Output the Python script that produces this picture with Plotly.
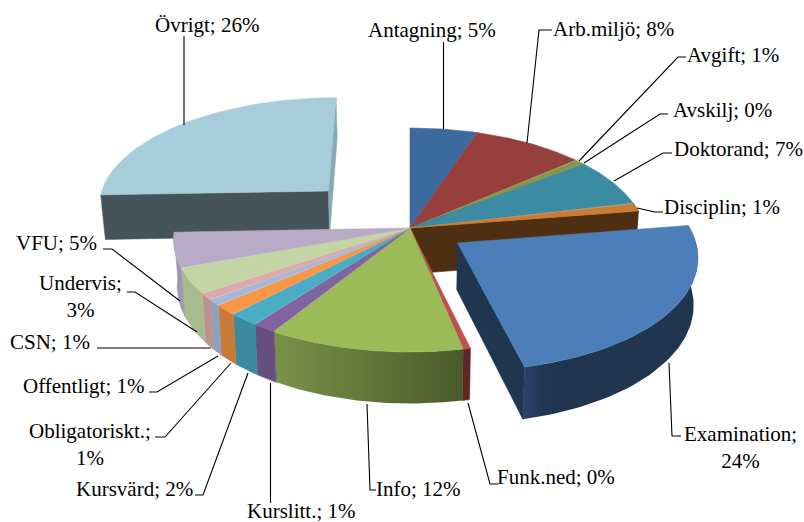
import numpy as np
import plotly.graph_objects as go

# ---------- data ----------
categories = ["Antagning", "Arb.miljö", "Avgift", "Avskilj", "Doktorand", "Disciplin",
              "Examination", "Funk.ned", "Info", "Kurslitt.", "Kursvärd", "Obligatoriskt.",
              "Offentligt", "CSN", "Undervis", "VFU", "Övrigt"]
shares = [5.1, 8.5, 0.8, 0.1, 6.8, 1.2, 23.8, 0.45, 12.05, 1.5, 1.9, 1.5, 0.9, 1.0, 3.7, 5.1, 25.6]
percent_labels = [5, 8, 1, 0, 7, 1, 24, 0, 12, 1, 2, 1, 1, 1, 3, 5, 26]
explode = [0, 0, 0, 0, 0, 0, 0.24, 0, 0, 0, 0, 0, 0, 0, 0, 0, 0.50]

top_colors = ["#3D6A9E", "#973F3D", "#7F9A48", "#664F85", "#3B8CA3", "#CB7B34",
              "#4C7FBA", "#C0504D", "#9BBB59", "#8064A2", "#4BACC6", "#F79646",
              "#A6B8DA", "#DCAAA9", "#C4D5A5", "#B7ABC6", "#A7CCDA"]
wall_colors = ["#2A4A6E", "#6B2C2B", "#5A6D33", "#48385E", "#2A6373", "#4F2F12",
               "#203650", "#5F2625", "#647A3A", "#654F80", "#3B8AA0", "#C97A38",
               "#8FA0BD", "#BD9090", "#A9BB8D", "#A196AE", "#45535A"]

# label text layout: category index -> (x, y, anchor)
label_breaks = {"Examination", "Obligatoriskt.", "Undervis"}
label_pos = [(366, 30, "left"), (551, 29, "left"), (685, 55, "left"), (671, 110, "left"),
             (672, 149, "left"), (662, 207, "left"), (740, 447, "center"), (495, 477, "left"),
             (374, 489, "left"), (245, 511, "left"), (195, 489, "right"), (90, 444, "center"),
             (147, 386, "right"), (92, 342, "right"), (80, 296, "center"), (99, 243, "right"),
             (153, 25, "left")]
leader_xs = [[443.5, 443.5], [527, 539, 552], [579, 678, 686], [584, 660, 668], [614, 663, 672],
             [637, 655, 663], [669, 672, 681], [468, 490, 498], [367, 370, 376], [270.5, 270.5],
             [248, 203, 195], [231, 165, 155], [218, 157, 149], [211, 97], [197, 135, 127],
             [180, 112, 103], [184, 184]]
leader_ys = [[129, 42], [143, 30, 30], [161, 57, 57], [163, 114, 114], [181, 153, 153],
             [208, 212, 212], [363, 436, 436], [403, 484, 484], [404, 490, 490], [383, 503],
             [373, 495, 495], [363, 437, 437], [356, 392, 392], [348, 348], [332, 292, 292],
             [301, 249, 249], [125, 36]]

# ---------- projection ----------
CX, CY, RX, RY, P, H, CONV = 410.0, 228.0, 235.0, 110.7, 0.107, 46.0, 0.985
FONT = "Liberation Serif"
FS = 21

ends = np.cumsum(shares) / np.sum(shares) * 2 * np.pi
starts = np.concatenate([[0.0], ends[:-1]])


def offset(i):
    mid = (starts[i] + ends[i]) / 2
    return explode[i] * np.sin(mid), explode[i] * np.cos(mid)


def project(i, theta, r, low=False):
    ou, ov = offset(i)
    u = ou + r * np.sin(theta)
    v = ov + r * np.cos(theta)
    w = 1 + P * v
    x = CX + RX * u / w
    y = CY - RY * v / w
    if low:
        x = CX + (x - CX) * CONV
        y = y + H / w
    return x, y


fig = go.Figure()


def poly(xs, ys, color, gradient=None):
    kw = dict(x=list(xs), y=list(ys), mode="lines", fill="toself", hoverinfo="skip", showlegend=False)
    if gradient:
        kw["fillgradient"] = dict(type="horizontal", colorscale=gradient)
        kw["line"] = dict(width=0)
    else:
        kw["fillcolor"] = color
        kw["line"] = dict(color=color, width=0.6)
    fig.add_trace(go.Scatter(**kw))


def top(i):
    t = np.linspace(starts[i], ends[i], 60)
    x, y = project(i, t, 1.0)
    ax, ay = project(i, 0.0, 0.0)
    poly(np.r_[ax, x, ax], np.r_[ay, y, ay], top_colors[i])


def wall(i, gradient=None):
    t = np.linspace(starts[i], ends[i], 60)
    x, y = project(i, t, 1.0)
    xb, yb = project(i, t, 1.0, True)
    poly(np.r_[x, xb[::-1], x[0]], np.r_[y, yb[::-1], y[0]], wall_colors[i], gradient)


def face(i, theta, color):
    ax, ay = project(i, 0.0, 0.0)
    ex, ey = project(i, theta, 1.0)
    bx, by = project(i, theta, 1.0, True)
    cx2, cy2 = project(i, 0.0, 0.0, True)
    poly([ax, ex, bx, cx2, ax], [ay, ey, by, cy2, ay], color)


idx = {c: k for k, c in enumerate(categories)}
EX, OV, DI, INFO = idx["Examination"], idx["Övrigt"], idx["Disciplin"], idx["Info"]
main = [k for k in range(len(categories)) if explode[k] == 0]

# exploded back slice
face(OV, starts[OV], wall_colors[OV])
face(OV, ends[OV], "#88A8B5")
top(OV)

# main body walls, then its top faces
face(DI, ends[DI], wall_colors[DI])
for k in main:
    mid = np.degrees((starts[k] + ends[k]) / 2)
    if 75 < mid < 265:
        wall(k, [[0, "#7A9349"], [1, "#4A5A2B"]] if k == INFO else None)
for k in main:
    top(k)

# exploded front slice
wall(EX, [[0, "#2A4468"], [0.14, "#1F3550"], [1, "#1F3550"]])
face(EX, ends[EX], wall_colors[EX])
top(EX)

# leader lines
for xs, ys in zip(leader_xs, leader_ys):
    fig.add_trace(go.Scatter(x=xs, y=ys, mode="lines", line=dict(color="#000000", width=1.1),
                             hoverinfo="skip", showlegend=False))

# labels
for c, pct, (lx, ly, anc) in zip(categories, percent_labels, label_pos):
    sep = ";<br>" if c in label_breaks else "; "
    fig.add_annotation(x=lx, y=ly, xref="x", yref="y", text=f"{c}{sep}{pct}%", showarrow=False,
                       xanchor=anc, yanchor="middle", align="center",
                       font=dict(family=FONT, size=FS, color="#000000"))

fig.update_layout(
    width=804, height=522, margin=dict(l=0, r=0, t=0, b=0),
    paper_bgcolor="#FFFFFF", plot_bgcolor="#FFFFFF", showlegend=False,
    xaxis=dict(range=[0, 804], visible=False, fixedrange=True),
    yaxis=dict(range=[522, 0], visible=False, fixedrange=True),
)
fig.write_html("out.html", post_script="document.body.style.margin='0';document.body.style.overflow='hidden';",
               config={"displayModeBar": False})
